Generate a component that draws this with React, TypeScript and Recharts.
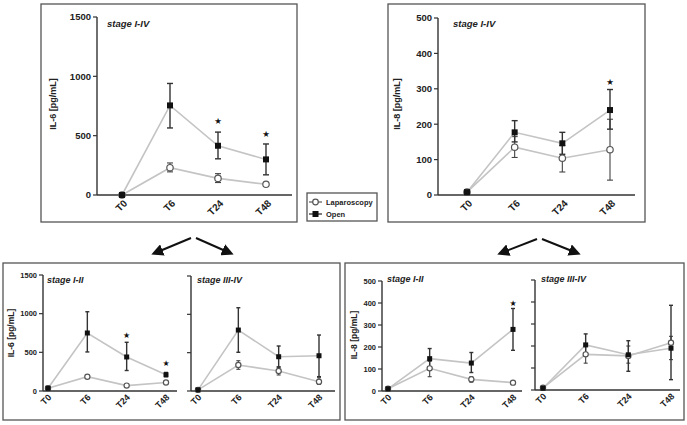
import React from 'react';
import { LineChart, Line, XAxis, YAxis, ErrorBar } from 'recharts';

const FONT = '"Liberation Sans", Arial, sans-serif';

const timepoints = ['T0', 'T6', 'T24', 'T48'];

// IL-6, stage I-IV
const il6AllOpen = [0, 755, 415, 300];
const il6AllOpenLo = [0, 565, 305, 170];
const il6AllOpenHi = [0, 940, 530, 430];
const il6AllLap = [0, 230, 140, 90];
const il6AllLapLo = [0, 195, 105, 80];
const il6AllLapHi = [0, 270, 180, 100];
const il6AllStar = [null, null, 620, 515];

// IL-8, stage I-IV
const il8AllOpen = [8, 177, 146, 240];
const il8AllOpenLo = [8, 150, 115, 186];
const il8AllOpenHi = [8, 210, 177, 298];
const il8AllLap = [8, 135, 104, 128];
const il8AllLapLo = [8, 106, 65, 42];
const il8AllLapHi = [8, 165, 140, 214];
const il8AllStar = [null, null, null, 320];

// IL-6, stage I-II
const il6EarlyOpen = [35, 750, 440, 210];
const il6EarlyOpenLo = [35, 505, 265, 185];
const il6EarlyOpenHi = [35, 1025, 630, 240];
const il6EarlyLap = [35, 185, 70, 110];
const il6EarlyLapLo = [35, 170, 60, 95];
const il6EarlyLapHi = [35, 200, 80, 125];
const il6EarlyStar = [null, null, 720, 360];

// IL-6, stage III-IV
const il6LateOpen = [15, 795, 447, 460];
const il6LateOpenLo = [15, 505, 310, 187];
const il6LateOpenHi = [15, 1086, 587, 730];
const il6LateLap = [15, 339, 261, 121];
const il6LateLapLo = [15, 283, 209, 87];
const il6LateLapHi = [15, 395, 317, 173];
const il6LateStar = [null, null, null, null];

// IL-8, stage I-II
const il8EarlyOpen = [10, 147, 127, 280];
const il8EarlyOpenLo = [10, 100, 84, 185];
const il8EarlyOpenHi = [10, 193, 175, 375];
const il8EarlyLap = [10, 103, 53, 38];
const il8EarlyLapLo = [10, 65, 40, 30];
const il8EarlyLapHi = [10, 135, 65, 45];
const il8EarlyStar = [null, null, null, 400];

// IL-8, stage III-IV
const il8LateOpen = [8, 205, 160, 190];
const il8LateOpenLo = [8, 155, 85, 47];
const il8LateOpenHi = [8, 255, 224, 385];
const il8LateLap = [10, 162, 155, 215];
const il8LateLapLo = [10, 122, 122, 138];
const il8LateLapHi = [10, 200, 200, 244];
const il8LateStar = [null, null, null, null];

const il6Ticks = [0, 500, 1000, 1500];
const il8Ticks = [0, 100, 200, 300, 400, 500];

function build(open, openLo, openHi, lap, lapLo, lapHi, star) {
  return timepoints.map((t, i) => ({
    t,
    open: open[i],
    openErr: [open[i] - openLo[i], openHi[i] - open[i]],
    lap: lap[i],
    lapErr: [lap[i] - lapLo[i], lapHi[i] - lap[i]],
    star: star[i],
  }));
}

function Panel({ x1, x2, y1, y2, yw, padL, padR, data, domain, ticks, fs, xfs, small, showY, title, titleX, titleY, titleFs, ylabel, ylabelX, ylabelY, ylabelFs }) {
  const left = x1 - yw;
  const top = y1 - 8;
  const width = x2 - left + 4;
  const height = y2 - top + 30;
  const sq = small ? 5 : 6;
  const r = small ? 2.6 : 3.2;
  const cap = small ? 2 : 3;

  const openDot = (p) =>
    p.cy == null ? <g key={p.index} /> : (
      <rect key={p.index} x={p.cx - sq / 2} y={p.cy - sq / 2} width={sq} height={sq} fill="#111" />
    );
  const lapDot = (p) =>
    p.cy == null ? <g key={p.index} /> : (
      <circle key={p.index} cx={p.cx} cy={p.cy} r={r} fill="#fff" stroke="#555" strokeWidth={1.2} />
    );
  const starDot = (p) =>
    p.cy == null || p.value == null ? <g key={p.index} /> : (
      <text key={p.index} x={p.cx} y={p.cy + 3} textAnchor="middle" fontSize={small ? 8 : 8.5} fill="#111" fontFamily="DejaVu Sans">★</text>
    );
  const xTick = (p) => {
    const ax = p.x + (small ? 4 : 6);
    const ay = p.y + (small ? 7 : 9);
    return (
      <text x={ax} y={ay} transform={`rotate(-45 ${ax} ${ay})`} textAnchor="end" fontSize={xfs} fontWeight="bold" fill="#222" fontFamily={FONT}>
        {p.payload.value}
      </text>
    );
  };

  return (
    <>
      <div style={{ position: 'absolute', left, top, width, height }}>
        <LineChart width={width} height={height} data={data} margin={{ top: 8, right: 4, left: 0, bottom: 0 }}>
          <XAxis
            dataKey="t"
            height={30}
            padding={{ left: padL, right: padR }}
            axisLine={{ stroke: '#333', strokeWidth: 1.4 }}
            tickLine={false}
            tickSize={0}
            tickMargin={0}
            interval={0}
            tick={xTick}
          />
          <YAxis
            type="number"
            width={yw}
            domain={domain}
            ticks={ticks}
            interval={0}
            tickSize={4}
            tickMargin={2}
            axisLine={{ stroke: '#333', strokeWidth: 1.4 }}
            tickLine={{ stroke: '#333', strokeWidth: 1.2 }}
            tickFormatter={showY ? undefined : () => ''}
            tick={{ fontSize: fs, fontWeight: 'bold', fill: '#222', fontFamily: FONT }}
          />
          <Line dataKey="lap" stroke="#c4c4c4" strokeWidth={1.6} dot={lapDot} activeDot={false} isAnimationActive={false}>
            <ErrorBar dataKey="lapErr" width={cap} stroke="#444" strokeWidth={1.1} direction="y" />
          </Line>
          <Line dataKey="open" stroke="#c4c4c4" strokeWidth={1.6} dot={openDot} activeDot={false} isAnimationActive={false}>
            <ErrorBar dataKey="openErr" width={cap} stroke="#333" strokeWidth={1.4} direction="y" />
          </Line>
          <Line dataKey="star" stroke="none" dot={starDot} activeDot={false} isAnimationActive={false} />
        </LineChart>
      </div>
      <div style={{ position: 'absolute', left: titleX, top: titleY, fontFamily: FONT, fontWeight: 'bold', fontStyle: 'italic', fontSize: titleFs, color: '#222', whiteSpace: 'nowrap' }}>
        {title}
      </div>
      {ylabel && (
        <div style={{ position: 'absolute', left: ylabelX, top: ylabelY, transform: 'translate(-50%, -50%) rotate(-90deg)', fontFamily: FONT, fontWeight: 'bold', fontSize: ylabelFs, color: '#222', whiteSpace: 'nowrap' }}>
          {ylabel}
        </div>
      )}
    </>
  );
}

function Frame() {
  const box = { fill: 'none', stroke: '#555', strokeWidth: 1.3 };
  const arrow = { stroke: '#111', strokeWidth: 2, markerEnd: 'url(#ah)' };
  return (
    <svg width={687} height={425} style={{ position: 'absolute', left: 0, top: 0 }}>
      <defs>
        <marker id="ah" markerWidth="6" markerHeight="6" refX="4" refY="3" orient="auto" markerUnits="strokeWidth">
          <path d="M0,0 L6,3 L0,6 Z" fill="#111" />
        </marker>
      </defs>
      <rect x={41} y={4} width={256} height={218} {...box} />
      <rect x={388} y={4} width={257} height={218} {...box} />
      <rect x={3} y={263} width={337} height={157} {...box} />
      <rect x={345} y={263} width={339} height={157} {...box} />
      <line x1={191} y1={238} x2={155} y2={253} {...arrow} />
      <line x1={196} y1={238} x2={230} y2={253} {...arrow} />
      <line x1={537} y1={239} x2={501} y2={253} {...arrow} />
      <line x1={542} y1={239} x2={577} y2={253} {...arrow} />
      <rect x={307} y={193} width={70} height={28} {...box} />
      <line x1={309} y1={202} x2={322} y2={202} stroke="#666" strokeWidth={1.3} />
      <circle cx={315.5} cy={202} r={2.8} fill="#fff" stroke="#555" strokeWidth={1.2} />
      <text x={326} y={205} fontSize={7.5} fontWeight="bold" fill="#222" fontFamily={FONT}>Laparoscopy</text>
      <line x1={309} y1={214} x2={322} y2={214} stroke="#333" strokeWidth={1.3} />
      <rect x={312.5} y={211} width={6} height={6} fill="#111" />
      <text x={326} y={217} fontSize={7.5} fontWeight="bold" fill="#222" fontFamily={FONT}>Open</text>
    </svg>
  );
}

export default function App() {
  return (
    <div style={{ position: 'absolute', left: 0, top: 0, width: 687, height: 425, background: '#fff', overflow: 'hidden' }}>
      <Frame />
      <Panel
        x1={97} x2={292} y1={17} y2={195} yw={56} padL={25} padR={26}
        data={build(il6AllOpen, il6AllOpenLo, il6AllOpenHi, il6AllLap, il6AllLapLo, il6AllLapHi, il6AllStar)}
        domain={[0, 1500]} ticks={il6Ticks} fs={9.5} xfs={10} showY
        title="stage I-IV" titleX={107} titleY={18} titleFs={9.5}
        ylabel="IL-6 [pg/mL]" ylabelX={53} ylabelY={104} ylabelFs={9}
      />
      <Panel
        x1={438} x2={635} y1={18} y2={195} yw={50} padL={29} padR={25}
        data={build(il8AllOpen, il8AllOpenLo, il8AllOpenHi, il8AllLap, il8AllLapLo, il8AllLapHi, il8AllStar)}
        domain={[0, 500]} ticks={il8Ticks} fs={9.5} xfs={10} showY
        title="stage I-IV" titleX={453} titleY={18} titleFs={9.5}
        ylabel="IL-8 [pg/mL]" ylabelX={397} ylabelY={104} ylabelFs={9}
      />
      <Panel
        x1={43} x2={177} y1={275} y2={391} yw={40} padL={5} padR={11} small
        data={build(il6EarlyOpen, il6EarlyOpenLo, il6EarlyOpenHi, il6EarlyLap, il6EarlyLapLo, il6EarlyLapHi, il6EarlyStar)}
        domain={[0, 1500]} ticks={il6Ticks} fs={7.5} xfs={9} showY
        title="stage I-II" titleX={47} titleY={275} titleFs={9}
        ylabel="IL-6 [pg/mL]" ylabelX={11} ylabelY={333} ylabelFs={8.5}
      />
      <Panel
        x1={191} x2={335} y1={276} y2={391} yw={8} padL={7} padR={16} small
        data={build(il6LateOpen, il6LateOpenLo, il6LateOpenHi, il6LateLap, il6LateLapLo, il6LateLapHi, il6LateStar)}
        domain={[0, 1500]} ticks={il6Ticks} fs={7.5} xfs={9} showY={false}
        title="stage III-IV" titleX={197} titleY={275} titleFs={9}
      />
      <Panel
        x1={382} x2={522} y1={281} y2={391} yw={35} padL={6} padR={9} small
        data={build(il8EarlyOpen, il8EarlyOpenLo, il8EarlyOpenHi, il8EarlyLap, il8EarlyLapLo, il8EarlyLapHi, il8EarlyStar)}
        domain={[0, 500]} ticks={il8Ticks} fs={7.5} xfs={9} showY
        title="stage I-II" titleX={387} titleY={274} titleFs={9}
        ylabel="IL-8 [pg/mL]" ylabelX={354} ylabelY={335} ylabelFs={8.5}
      />
      <Panel
        x1={535} x2={680} y1={280} y2={390} yw={8} padL={8} padR={9} small
        data={build(il8LateOpen, il8LateOpenLo, il8LateOpenHi, il8LateLap, il8LateLapLo, il8LateLapHi, il8LateStar)}
        domain={[0, 500]} ticks={il8Ticks} fs={7.5} xfs={9} showY={false}
        title="stage III-IV" titleX={541} titleY={274} titleFs={9}
      />
    </div>
  );
}
